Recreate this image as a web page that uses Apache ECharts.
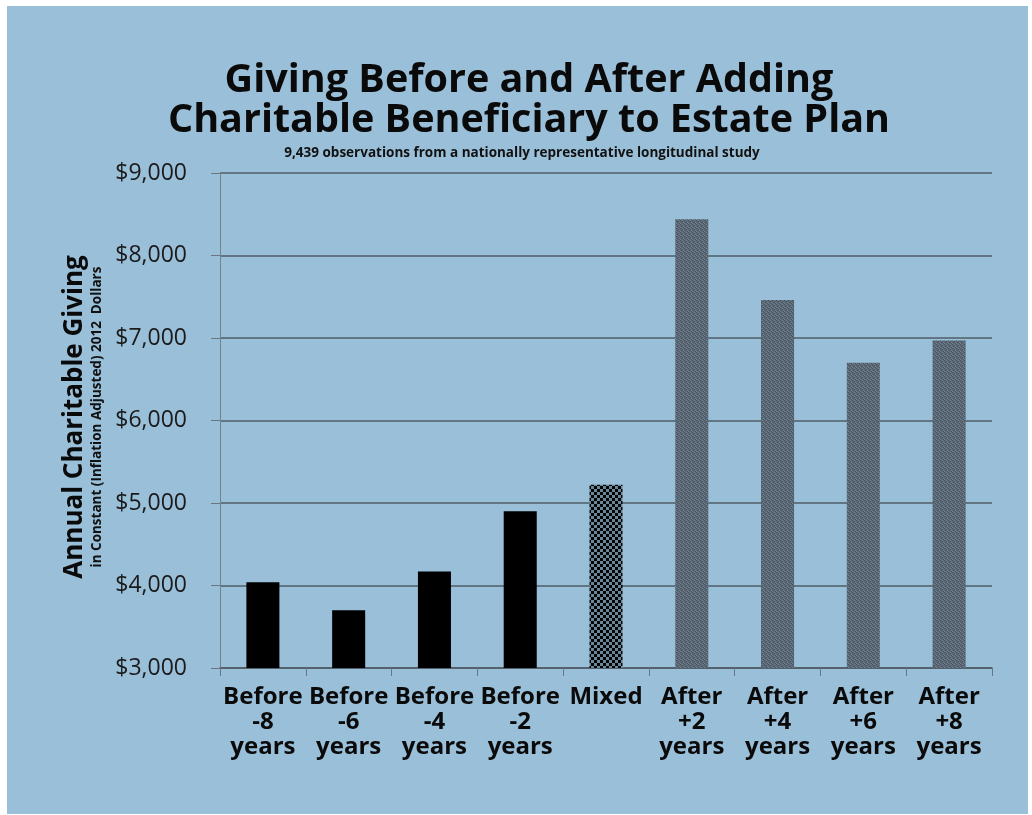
<!DOCTYPE html>
<html>
<head>
<meta charset="utf-8">
<script src="https://cdn.jsdelivr.net/npm/echarts@6/dist/echarts.min.js"></script>
<style>
  html, body { margin: 0; padding: 0; background: #fff; }
  #chart {
    width: 1032px; height: 815px;
    background: linear-gradient(#9abfd9, #9abfd9) 7px 6px / 1021px 808px no-repeat, #fff;
  }
</style>
</head>
<body>
<div id="chart"></div>
<script>
// Period labels along the horizontal axis
const categories = [
  'Before\n-8\nyears', 'Before\n-6\nyears', 'Before\n-4\nyears', 'Before\n-2\nyears',
  'Mixed',
  'After\n+2\nyears', 'After\n+4\nyears', 'After\n+6\nyears', 'After\n+8\nyears'
];
// Average annual giving, constant 2012 dollars
const giving = [4040, 3700, 4170, 4900, 5220, 8440, 7460, 6700, 6970];
// Which phase each period belongs to (drives the bar fill)
const phase = ['before', 'before', 'before', 'before', 'mixed', 'after', 'after', 'after', 'after'];
// Value axis range
const yMin = 3000, yMax = 9000, yStep = 1000;

// Checkerboard fill for the mixed period
function checkerPattern() {
  const c = document.createElement('canvas');
  c.width = 6; c.height = 6;
  const g = c.getContext('2d');
  g.fillStyle = '#6a8699'; g.fillRect(0, 0, 6, 6);
  g.fillStyle = '#050505';
  g.fillRect(0, 0, 3, 3); g.fillRect(3, 3, 3, 3);
  return c;
}
// Fine grey grain for the after periods
function grainPattern() {
  const c = document.createElement('canvas');
  c.width = 4; c.height = 4;
  const g = c.getContext('2d');
  g.fillStyle = '#5b6a76'; g.fillRect(0, 0, 4, 4);
  g.fillStyle = '#485561';
  g.fillRect(0, 0, 1, 1); g.fillRect(2, 1, 1, 1); g.fillRect(1, 2, 1, 1); g.fillRect(3, 3, 1, 1);
  g.fillStyle = '#72818d';
  g.fillRect(2, 0, 1, 1); g.fillRect(0, 3, 1, 1); g.fillRect(3, 2, 1, 1);
  return c;
}
const fills = {
  before: '#000000',
  mixed: { image: checkerPattern(), repeat: 'repeat' },
  after: { image: grainPattern(), repeat: 'repeat' }
};

const FONT = '"Open Sans", "Noto Sans", sans-serif';
const chart = echarts.init(document.getElementById('chart'), null, { renderer: 'canvas' });

chart.setOption({
  backgroundColor: 'transparent',
  animation: false,
  grid: { left: 220, right: 40, top: 173, bottom: 147, containLabel: false },
  graphic: [
    { type: 'text', x: 529, y: 81, style: { text: 'Giving Before and After Adding', font: 'bold 39.5px ' + FONT, fill: '#0a0a0a', textAlign: 'center', textVerticalAlign: 'middle' } },
    { type: 'text', x: 529, y: 121, style: { text: 'Charitable Beneficiary to Estate Plan', font: 'bold 39.5px ' + FONT, fill: '#0a0a0a', textAlign: 'center', textVerticalAlign: 'middle' } },
    { type: 'text', x: 522, y: 153, style: { text: '9,439 observations from a nationally representative longitudinal study', font: 'bold 13.5px ' + FONT, fill: '#111', textAlign: 'center', textVerticalAlign: 'middle' } },
    { type: 'text', x: 75, y: 417, rotation: Math.PI / 2, style: { text: 'Annual Charitable Giving', font: 'bold 26px ' + FONT, fill: '#0a0a0a', textAlign: 'center', textVerticalAlign: 'middle' } },
    { type: 'text', x: 97, y: 417, rotation: Math.PI / 2, style: { text: 'in Constant (Inflation Adjusted) 2012  Dollars', font: 'bold 13.5px ' + FONT, fill: '#111', textAlign: 'center', textVerticalAlign: 'middle' } }
  ],
  xAxis: {
    type: 'category',
    data: categories,
    boundaryGap: true,
    axisLine: { show: true, lineStyle: { color: '#4f5c66', width: 1.5 } },
    axisTick: { show: true, alignWithLabel: false, length: 8, lineStyle: { color: '#6b7680', width: 1 } },
    axisLabel: {
      interval: 0, margin: 17, verticalAlign: 'top',
      color: '#0a0a0a', fontFamily: FONT, fontWeight: 'bold', fontSize: 24, lineHeight: 25
    }
  },
  yAxis: {
    type: 'value',
    min: yMin, max: yMax, interval: yStep,
    axisLine: { show: true, lineStyle: { color: '#76818a', width: 1 } },
    axisTick: { show: true, length: 9, lineStyle: { color: '#6b7680', width: 1 } },
    splitLine: { show: true, lineStyle: { color: '#4f5c66', width: 1.5 } },
    axisLabel: {
      margin: 33, color: '#1a1a1a', fontFamily: FONT, fontSize: 23,
      formatter: v => '$' + v.toLocaleString('en-US')
    }
  },
  series: [{
    type: 'bar',
    barWidth: '38.5%',
    data: giving.map((v, i) => ({ value: v, itemStyle: { color: fills[phase[i]] } })),
    label: { show: false }
  }]
});
</script>
</body>
</html>
